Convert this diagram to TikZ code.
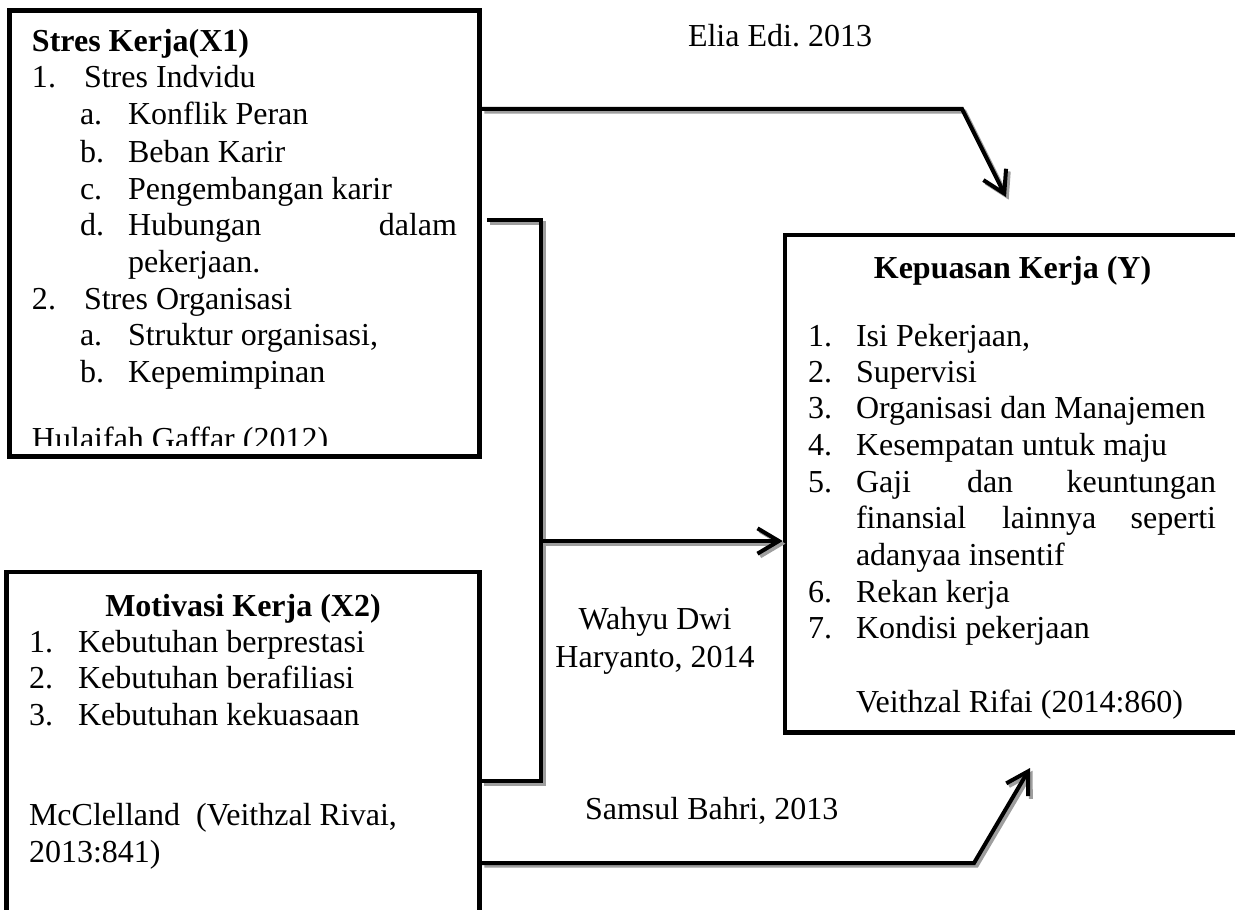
\documentclass[tikz,border=0pt]{standalone}
\usepackage{fontspec}
\setmainfont{Liberation Serif}
\usetikzlibrary{arrows.meta}
\frenchspacing
\begin{document}
\begin{tikzpicture}[x=0.375pt,y=-0.375pt,
  txt/.style={inner sep=0pt, outer sep=0pt, anchor=base west, font=\fontsize{12pt}{13.8pt}\selectfont},
  txte/.style={txt, anchor=base east},
  txtc/.style={txt, anchor=base},
  ttl/.style={txt, font=\fontsize{12pt}{13.8pt}\selectfont\bfseries},
  box/.style={draw, line width=1.7pt, inner sep=0pt, rectangle},
  conn/.style={line width=1.5pt, preaction={draw=black!38, line width=1.5pt, transform canvas={shift={(1pt,-1pt)}}}},
  tip/.style={-{Straight Barb[length=8pt,width=9.5pt]}}
]
\useasboundingbox (0,0) rectangle (1235,909);
\fill[white] (0,0) rectangle (1235,909);

% boxes
\node[box, minimum width=176.25pt, minimum height=167.25pt] (x1) at (244.5,233.5) {};
\node[box, minimum width=177.375pt, minimum height=141.75pt] (x2) at (243,761) {};
\node[box, minimum width=178.125pt, minimum height=186.56pt] (y) at (1022.5,483.75) {};

% X1 text
\node[ttl] (x1t) at (32,52) {Stres Kerja(X1)};
\node[txt] (x1n1) at (32,88) {1.};
\node[txt] (x1i1) at (84,88) {Stres Indvidu};
\node[txt] (x1a) at (80,125) {a.};
\node[txt] (x1at) at (128,125) {Konflik Peran};
\node[txt] (x1b) at (80,162) {b.};
\node[txt] (x1bt) at (128,162) {Beban Karir};
\node[txt] (x1c) at (80,199) {c.};
\node[txt] (x1ct) at (128,199) {Pengembangan karir};
\node[txt] (x1d) at (80,235) {d.};
\node[txt] (x1dt) at (128,235) {Hubungan};
\node[txte] (x1dt2) at (457,235) {dalam};
\node[txt] (x1dt3) at (128,272) {pekerjaan.};
\node[txt] (x1n2) at (32,309) {2.};
\node[txt] (x1i2) at (84,309) {Stres Organisasi};
\node[txt] (x1a2) at (80,345) {a.};
\node[txt] (x1a2t) at (128,345) {Struktur organisasi,};
\node[txt] (x1b2) at (80,382) {b.};
\node[txt] (x1b2t) at (128,382) {Kepemimpinan};
\begin{scope}
\clip (14,400) rectangle (476,445);
\node[txt] (x1src) at (32,449) {Hulaifah Gaffar (2012)};
\end{scope}

% X2 text
\node[ttl, anchor=base] (x2t) at (243,616) {Motivasi Kerja (X2)};
\node[txt] (x2n1) at (29,652) {1.};
\node[txt] (x2i1) at (78,652) {Kebutuhan berprestasi};
\node[txt] (x2n2) at (29,688) {2.};
\node[txt] (x2i2) at (78,688) {Kebutuhan berafiliasi};
\node[txt] (x2n3) at (29,725) {3.};
\node[txt] (x2i3) at (78,725) {Kebutuhan kekuasaan};
\node[txt] (x2s1) at (29,825) {McClelland\ \ (Veithzal Rivai,};
\node[txt] (x2s2) at (29,862) {2013:841)};

% Y text
\node[ttl, anchor=base] (yt) at (1012.5,278) {Kepuasan Kerja (Y)};
\node[txt] (yn1) at (808,346) {1.};
\node[txt] (yi1) at (856,346) {Isi Pekerjaan,};
\node[txt] (yn2) at (808,382) {2.};
\node[txt] (yi2) at (856,382) {Supervisi};
\node[txt] (yn3) at (808,418) {3.};
\node[txt] (yi3) at (856,418) {Organisasi dan Manajemen};
\node[txt] (yn4) at (808,455) {4.};
\node[txt] (yi4) at (856,455) {Kesempatan untuk maju};
\node[txt] (yn5) at (808,492) {5.};
\node[txt] (yi5a) at (856,492) {Gaji};
\node[txt] (yi5b) at (967,492) {dan};
\node[txte] (yi5c) at (1216,492) {keuntungan};
\node[txt] (yi5d) at (856,528) {finansial};
\node[txt] (yi5e) at (1002,528) {lainnya};
\node[txte] (yi5f) at (1216,528) {seperti};
\node[txt] (yi5g) at (856,565) {adanyaa insentif};
\node[txt] (yn6) at (808,602) {6.};
\node[txt] (yi6) at (856,602) {Rekan kerja};
\node[txt] (yn7) at (808,638) {7.};
\node[txt] (yi7) at (856,638) {Kondisi pekerjaan};
\node[txt] (ysrc) at (856,712) {Veithzal Rifai (2014:860)};

% labels
\node[txt] (l1) at (688,47) {Elia Edi. 2013};
\node[txtc] (l2a) at (655,629) {Wahyu Dwi};
\node[txtc] (l2b) at (655,667) {Haryanto, 2014};
\node[txt] (l3) at (585,819) {Samsul Bahri, 2013};

% connector coordinates
\coordinate (tb) at (962,109);
\coordinate (tt) at (1006,197);
\coordinate (bl) at (487,220);
\coordinate (bt) at (541,220);
\coordinate (bb) at (541,781);
\coordinate (bm) at (541,541);
\coordinate (kb) at (974,863);
\coordinate (kt) at (1030,768);

% connectors
\draw[conn, tip, line join=miter] (x1.east |- tb) -- (tb) -- (tt);
\draw[conn, line join=miter] (bl) -- (bt) -- (bb) -- (x2.east |- bb);
\draw[conn, tip] (bm) -- (y.west |- bm);
\draw[conn, tip, line join=miter] (x2.east |- kb) -- (kb) -- (kt);
\end{tikzpicture}
\end{document}
